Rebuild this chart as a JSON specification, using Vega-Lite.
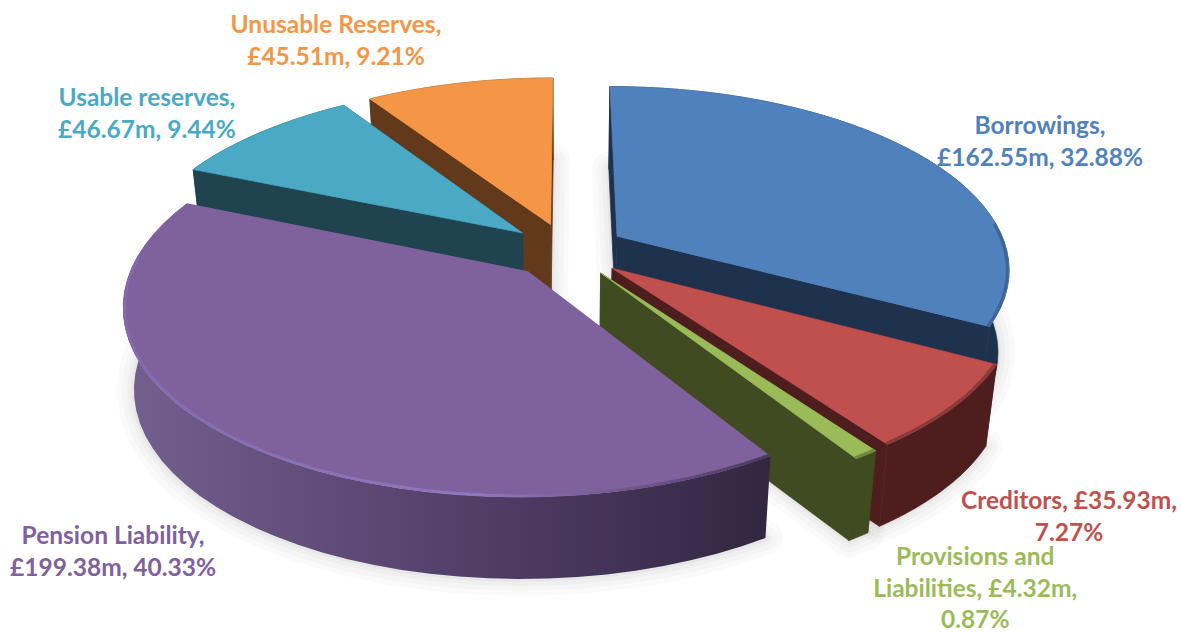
{
  "$schema": "https://vega.github.io/schema/vega-lite/v6.json",
  "width": 1181,
  "height": 632,
  "padding": 0,
  "autosize": "none",
  "background": "white",
  "config": {"view": {"stroke": null}},
  "params": [
    {"name": "cx", "value": 567},
    {"name": "cy", "value": 250},
    {"name": "rx", "value": 390},
    {"name": "ry", "value": 179.4},
    {"name": "tilt", "value": 0.17},
    {"name": "burst", "value": 0.1515},
    {"name": "thick", "value": 82}
  ],
  "data": {
    "values": [
      {"name": "Unusable Reserves", "seq": 6, "value": 45.51, "label": "Unusable Reserves,\n£45.51m, 9.21%"},
      {"name": "Usable reserves", "seq": 5, "value": 46.67, "label": "Usable reserves,\n£46.67m, 9.44%"},
      {"name": "Borrowings", "seq": 1, "value": 162.55, "label": "Borrowings,\n£162.55m, 32.88%"},
      {"name": "Creditors", "seq": 2, "value": 35.93, "label": "Creditors, £35.93m,\n7.27%"},
      {"name": "Provisions and Liabilities", "seq": 3, "value": 4.32, "label": "Provisions and\nLiabilities, £4.32m,\n0.87%"},
      {"name": "Pension Liability", "seq": 4, "value": 199.38, "label": "Pension Liability,\n£199.38m, 40.33%"}
    ]
  },
  "transform": [
    {"joinaggregate": [{"op": "sum", "field": "value", "as": "total"}]},
    {"stack": "value", "groupby": [], "sort": [{"field": "seq", "order": "ascending"}], "as": ["c0", "c1"]},
    {"calculate": "2*PI*datum.c0/datum.total", "as": "th0"},
    {"calculate": "2*PI*datum.c1/datum.total", "as": "th1"},
    {"calculate": "burst*sin((datum.th0+datum.th1)/2)", "as": "eu"},
    {"calculate": "-burst*cos((datum.th0+datum.th1)/2)", "as": "ev"},
    {"calculate": "['base','outer','wall0','wall1','top','edge']", "as": "part"},
    {"flatten": ["part"]},
    {"calculate": "sequence(0,82)", "as": "k"},
    {"flatten": ["k"]},
    {"filter": "(datum.part=='outer') || ((datum.part=='top'||datum.part=='base') && datum.k<=41) || (datum.part=='edge' && datum.k>=1 && datum.k<=41) || ((datum.part=='wall0'||datum.part=='wall1') && datum.k<=3)"},
    {"calculate": "datum.part=='outer' ? 1 : datum.part=='edge' ? 0.996 : (datum.part=='top'||datum.part=='base') ? (datum.k==0?0:1) : ((datum.k==0||datum.k==3)?0:1)", "as": "r"},
    {"calculate": "datum.part=='wall0' ? 0 : datum.part=='wall1' ? 1 : datum.part=='outer' ? (datum.k<=40 ? datum.k/40 : (81-datum.k)/40) : max(datum.k-1,0)/40", "as": "t"},
    {"calculate": "datum.part=='base' ? 1 : datum.part=='outer' ? (datum.k>40?1:0) : (datum.part=='wall0'||datum.part=='wall1') ? (datum.k>=2?1:0) : 0", "as": "d"},
    {"calculate": "datum.th0+datum.t*(datum.th1-datum.th0)", "as": "th"},
    {"calculate": "datum.eu+datum.r*sin(datum.th)", "as": "U"},
    {"calculate": "datum.ev-datum.r*cos(datum.th)", "as": "V"},
    {"calculate": "1/(1-tilt*datum.V)", "as": "s"},
    {"calculate": "cx+rx*datum.U*datum.s", "as": "sx"},
    {"calculate": "datum.sx+datum.d*(cx-datum.sx)*0.025", "as": "px"},
    {"calculate": "cy+ry*datum.V*datum.s+datum.d*thick", "as": "py"},
    {"calculate": "({'Borrowings':'#4f81bd','Creditors':'#c0504d','Provisions and Liabilities':'#9bbb59','Pension Liability':'#7e619d','Usable reserves':'#4aa9c4','Unusable Reserves':'#f59646'})[datum.name]", "as": "face"},
    {"calculate": "({'Borrowings':'#1e324e','Creditors':'#4e1e1e','Provisions and Liabilities':'#404b21','Pension Liability':'#3a2c4e','Usable reserves':'#1f444f','Unusable Reserves':'#63391b'})[datum.name]", "as": "side"},
    {"calculate": "({'Borrowings':'#3f6596','Creditors':'#8a3a38','Provisions and Liabilities':'#6f8a3d','Pension Liability':'#8b70b8','Usable reserves':'#4aa9c4','Unusable Reserves':'#f59646'})[datum.name]", "as": "lip"},
    {"calculate": "datum.part=='top' ? datum.face : datum.part=='edge' ? datum.lip : datum.side", "as": "paint"},
    {"calculate": "datum.name+'|'+datum.part", "as": "shape"}
  ],
  "encoding": {
    "x": {"field": "px", "type": "quantitative", "scale": {"domain": [0, 1181], "nice": false, "zero": false}, "axis": null},
    "y": {"field": "py", "type": "quantitative", "scale": {"domain": [632, 0], "nice": false, "zero": false}, "axis": null}
  },
  "layer": [
    {
      "transform": [{"filter": "datum.part=='base'"}],
      "mark": {"type": "line", "interpolate": "linear-closed", "stroke": "#000000", "strokeOpacity": 0.018, "strokeWidth": 34, "strokeJoin": "round"},
      "encoding": {"detail": {"field": "shape"}, "order": {"field": "k"}}
    },
    {
      "transform": [{"filter": "datum.part=='base'"}],
      "mark": {"type": "line", "interpolate": "linear-closed", "stroke": "#000000", "strokeOpacity": 0.02, "strokeWidth": 24, "strokeJoin": "round"},
      "encoding": {"detail": {"field": "shape"}, "order": {"field": "k"}}
    },
    {
      "transform": [{"filter": "datum.part=='base'"}],
      "mark": {"type": "line", "interpolate": "linear-closed", "stroke": "#000000", "strokeOpacity": 0.025, "strokeWidth": 14, "strokeJoin": "round"},
      "encoding": {"detail": {"field": "shape"}, "order": {"field": "k"}}
    },
    {
      "transform": [{"filter": "datum.part=='base'"}],
      "mark": {"type": "line", "interpolate": "linear-closed", "stroke": "#000000", "strokeOpacity": 0.03, "strokeWidth": 6, "strokeJoin": "round"},
      "encoding": {"detail": {"field": "shape"}, "order": {"field": "k"}}
    },
    {
      "transform": [{"filter": "datum.name!='Pension Liability' && indexof(['outer','wall0','wall1','top'],datum.part)>=0"}],
      "mark": {"type": "line", "interpolate": "linear-closed", "strokeWidth": 0.7, "strokeJoin": "round"},
      "encoding": {
        "fill": {"field": "paint", "type": "nominal", "scale": null},
        "stroke": {"field": "paint", "type": "nominal", "scale": null},
        "detail": {"field": "shape"},
        "order": {"field": "k"}
      }
    },
    {
      "transform": [{"filter": "datum.part=='edge' && ((datum.name=='Borrowings' && datum.t>0.7)||datum.name=='Creditors'||datum.name=='Provisions and Liabilities')"}],
      "mark": {"type": "line", "strokeWidth": 3, "strokeCap": "butt"},
      "encoding": {
        "stroke": {"field": "paint", "type": "nominal", "scale": null},
        "detail": {"field": "shape"},
        "order": {"field": "k"}
      }
    },
    {
      "transform": [{"filter": "datum.name=='Pension Liability' && datum.part=='outer'"}],
      "mark": {
        "type": "line",
        "interpolate": "linear-closed",
        "strokeWidth": 0,
        "fill": {"x1": 0, "x2": 1, "y1": 0, "y2": 0, "gradient": "linear", "stops": [
          {"offset": 0, "color": "#73608f"},
          {"offset": 0.35, "color": "#5e4a76"},
          {"offset": 0.62, "color": "#4c3a62"},
          {"offset": 1, "color": "#322640"}
        ]}
      },
      "encoding": {"order": {"field": "k"}}
    },
    {
      "transform": [{"filter": "datum.name=='Pension Liability' && datum.part=='top'"}],
      "mark": {"type": "line", "interpolate": "linear-closed", "strokeWidth": 0, "fill": "#7e619d"},
      "encoding": {"order": {"field": "k"}}
    },
    {
      "transform": [{"filter": "datum.name=='Pension Liability' && datum.part=='edge' && datum.t<0.88"}],
      "mark": {
        "type": "line",
        "strokeWidth": 3,
        "stroke": {"x1": 0, "x2": 1, "y1": 0, "y2": 0, "gradient": "linear", "stops": [
          {"offset": 0, "color": "#8369ad"},
          {"offset": 0.55, "color": "#9078bd"},
          {"offset": 0.82, "color": "#6a5287"},
          {"offset": 1, "color": "#4a3a5c"}
        ]}
      },
      "encoding": {"order": {"field": "k"}}
    },
    {
      "transform": [
        {"filter": "datum.part=='top' && datum.k==0"},
        {"calculate": "({'Unusable Reserves':-0.752,'Usable reserves':-1.257,'Borrowings':1.373,'Creditors':1.039,'Provisions and Liabilities':0.81,'Pension Liability':-0.915})[datum.name]", "as": "lu"},
        {"calculate": "({'Unusable Reserves':-1.585,'Usable reserves':-0.982,'Borrowings':-0.776,'Creditors':1.134,'Provisions and Liabilities':1.33,'Pension Liability':1.258})[datum.name]", "as": "lv"},
        {"calculate": "cx+rx*datum.lu/(1-tilt*datum.lv)", "as": "lx"},
        {"calculate": "cy+ry*datum.lv/(1-tilt*datum.lv)", "as": "ly"}
      ],
      "mark": {"type": "text", "font": "Lato", "fontWeight": "bold", "fontSize": 24.5, "lineHeight": 31.5, "lineBreak": "\n", "align": "center", "baseline": "middle"},
      "encoding": {
        "x": {"field": "lx", "type": "quantitative"},
        "y": {"field": "ly", "type": "quantitative"},
        "text": {"field": "label", "type": "nominal"},
        "fill": {"field": "face", "type": "nominal", "scale": null}
      }
    }
  ]
}
